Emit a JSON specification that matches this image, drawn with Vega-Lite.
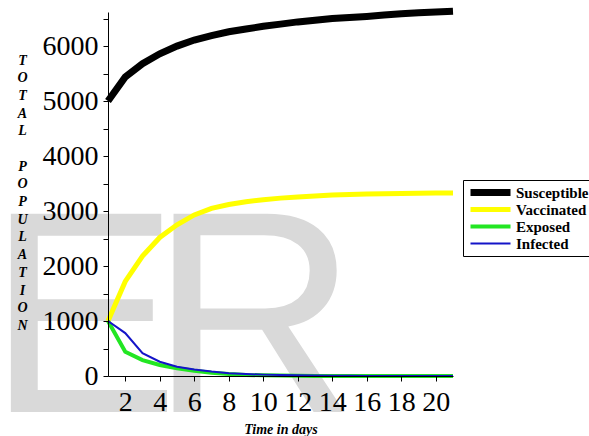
{
  "$schema": "https://vega.github.io/schema/vega-lite/v6.json",
  "width": 345,
  "height": 364,
  "autosize": "none",
  "padding": {"left": 108, "top": 12, "right": 136, "bottom": 60},
  "background": "white",
  "config": {
    "view": {"stroke": null},
    "font": "Liberation Serif",
    "axisX": {
      "values": [1,2,3,4,5,6,7,8,9,10,11,12,13,14,15,16,17,18,19,20,21],
      "labelExpr": "datum.value % 2 === 0 ? datum.value : ''",
      "grid": false, "tickSize": 5, "tickColor": "black", "domainColor": "black",
      "labelFont": "Liberation Serif", "labelFontSize": 28, "labelColor": "black",
      "labelPadding": 7, "labelOverlap": false, "labelFlush": false, "labelBound": false,
      "titleFont": "Liberation Serif", "titleFontSize": 14,
      "titleFontWeight": "bold", "titleFontStyle": "italic", "titleColor": "black",
      "titleY": 53, "titleBaseline": "middle"
    },
    "axisY": {
      "values": [0,500,1000,1500,2000,2500,3000,3500,4000,4500,5000,5500,6000,6500],
      "labelExpr": "datum.value % 1000 === 0 ? datum.value : ''",
      "grid": false, "tickSize": 5, "tickColor": "black", "domainColor": "black",
      "labelFont": "Liberation Serif", "labelFontSize": 28, "labelColor": "black",
      "labelPadding": 5, "labelOverlap": false, "labelFlush": false, "labelBound": false,
      "titleFont": "Liberation Serif", "titleFontSize": 14, "titleFontWeight": "bold",
      "titleFontStyle": "italic", "titleColor": "black", "titleAngle": 0,
      "titleLineHeight": 17.7, "titleX": -86, "titleY": 48,
      "titleAlign": "center", "titleBaseline": "middle"
    }
  },
  "layer": [
    {
      "data": {"values": [{"label": "E"}]},
      "mark": {"type": "text", "font": "Liberation Sans", "fontSize": 288, "color": "#d9d9d9", "align": "left", "baseline": "alphabetic", "clip": false},
      "encoding": {
        "text": {"field": "label"},
        "x": {"datum": -6.0, "type": "quantitative", "scale": {"domain": [1, 21], "nice": false, "zero": false}, "title": "Time in days", "axis": {"zindex": 1}},
        "y": {"datum": -654, "type": "quantitative", "scale": {"domain": [0, 6620], "nice": false},
          "title": ["T","O","T","A","L","\u200b","P","O","P","U","L","A","T","I","O","N"], "axis": {"zindex": 1}}
      }
    },
    {
      "data": {"values": [{"label": "R"}]},
      "mark": {"type": "text", "font": "Liberation Sans", "fontSize": 288, "color": "#d9d9d9", "align": "left", "baseline": "alphabetic", "clip": false},
      "encoding": {
        "text": {"field": "label"},
        "x": {"datum": 3.43, "type": "quantitative", "scale": {"domain": [1, 21], "nice": false, "zero": false}, "title": "Time in days", "axis": {"zindex": 1}},
        "y": {"datum": -654, "type": "quantitative", "scale": {"domain": [0, 6620], "nice": false},
          "title": ["T","O","T","A","L","\u200b","P","O","P","U","L","A","T","I","O","N"], "axis": {"zindex": 1}}
      }
    },
    {
      "data": {"values": [
        {"t": 1, "series": "Susceptible", "value": 5000},
        {"t": 2, "series": "Susceptible", "value": 5440},
        {"t": 3, "series": "Susceptible", "value": 5680},
        {"t": 4, "series": "Susceptible", "value": 5860},
        {"t": 5, "series": "Susceptible", "value": 6000},
        {"t": 6, "series": "Susceptible", "value": 6110},
        {"t": 7, "series": "Susceptible", "value": 6190},
        {"t": 8, "series": "Susceptible", "value": 6260},
        {"t": 9, "series": "Susceptible", "value": 6310},
        {"t": 10, "series": "Susceptible", "value": 6360},
        {"t": 11, "series": "Susceptible", "value": 6400},
        {"t": 12, "series": "Susceptible", "value": 6440},
        {"t": 13, "series": "Susceptible", "value": 6470},
        {"t": 14, "series": "Susceptible", "value": 6500},
        {"t": 15, "series": "Susceptible", "value": 6520},
        {"t": 16, "series": "Susceptible", "value": 6540},
        {"t": 17, "series": "Susceptible", "value": 6565},
        {"t": 18, "series": "Susceptible", "value": 6590},
        {"t": 19, "series": "Susceptible", "value": 6605},
        {"t": 20, "series": "Susceptible", "value": 6620},
        {"t": 21, "series": "Susceptible", "value": 6635},
        {"t": 1, "series": "Vaccinated", "value": 1000},
        {"t": 2, "series": "Vaccinated", "value": 1720},
        {"t": 3, "series": "Vaccinated", "value": 2180},
        {"t": 4, "series": "Vaccinated", "value": 2520},
        {"t": 5, "series": "Vaccinated", "value": 2750},
        {"t": 6, "series": "Vaccinated", "value": 2930},
        {"t": 7, "series": "Vaccinated", "value": 3050},
        {"t": 8, "series": "Vaccinated", "value": 3120},
        {"t": 9, "series": "Vaccinated", "value": 3170},
        {"t": 10, "series": "Vaccinated", "value": 3205},
        {"t": 11, "series": "Vaccinated", "value": 3235},
        {"t": 12, "series": "Vaccinated", "value": 3255},
        {"t": 13, "series": "Vaccinated", "value": 3275},
        {"t": 14, "series": "Vaccinated", "value": 3290},
        {"t": 15, "series": "Vaccinated", "value": 3300},
        {"t": 16, "series": "Vaccinated", "value": 3310},
        {"t": 17, "series": "Vaccinated", "value": 3315},
        {"t": 18, "series": "Vaccinated", "value": 3320},
        {"t": 19, "series": "Vaccinated", "value": 3325},
        {"t": 20, "series": "Vaccinated", "value": 3330},
        {"t": 21, "series": "Vaccinated", "value": 3330},
        {"t": 1, "series": "Exposed", "value": 1000},
        {"t": 2, "series": "Exposed", "value": 442},
        {"t": 3, "series": "Exposed", "value": 290},
        {"t": 4, "series": "Exposed", "value": 200},
        {"t": 5, "series": "Exposed", "value": 140},
        {"t": 6, "series": "Exposed", "value": 95},
        {"t": 7, "series": "Exposed", "value": 60},
        {"t": 8, "series": "Exposed", "value": 35},
        {"t": 9, "series": "Exposed", "value": 20},
        {"t": 10, "series": "Exposed", "value": 12},
        {"t": 11, "series": "Exposed", "value": 7},
        {"t": 12, "series": "Exposed", "value": 4},
        {"t": 13, "series": "Exposed", "value": 2},
        {"t": 14, "series": "Exposed", "value": 1},
        {"t": 15, "series": "Exposed", "value": 1},
        {"t": 16, "series": "Exposed", "value": 0},
        {"t": 17, "series": "Exposed", "value": 0},
        {"t": 18, "series": "Exposed", "value": 0},
        {"t": 19, "series": "Exposed", "value": 0},
        {"t": 20, "series": "Exposed", "value": 0},
        {"t": 21, "series": "Exposed", "value": 0},
        {"t": 1, "series": "Infected", "value": 1000},
        {"t": 2, "series": "Infected", "value": 780},
        {"t": 3, "series": "Infected", "value": 415},
        {"t": 4, "series": "Infected", "value": 260},
        {"t": 5, "series": "Infected", "value": 170},
        {"t": 6, "series": "Infected", "value": 120},
        {"t": 7, "series": "Infected", "value": 80},
        {"t": 8, "series": "Infected", "value": 50},
        {"t": 9, "series": "Infected", "value": 35},
        {"t": 10, "series": "Infected", "value": 25},
        {"t": 11, "series": "Infected", "value": 18},
        {"t": 12, "series": "Infected", "value": 12},
        {"t": 13, "series": "Infected", "value": 8},
        {"t": 14, "series": "Infected", "value": 5},
        {"t": 15, "series": "Infected", "value": 3},
        {"t": 16, "series": "Infected", "value": 2},
        {"t": 17, "series": "Infected", "value": 1},
        {"t": 18, "series": "Infected", "value": 1},
        {"t": 19, "series": "Infected", "value": 0},
        {"t": 20, "series": "Infected", "value": 0},
        {"t": 21, "series": "Infected", "value": 0}
      ]},
      "mark": {"type": "line", "clip": false},
      "encoding": {
        "x": {
          "field": "t", "type": "quantitative",
          "scale": {"domain": [1, 21], "nice": false, "zero": false},
          "title": "Time in days", "axis": {"zindex": 1}
        },
        "y": {
          "field": "value", "type": "quantitative",
          "scale": {"domain": [0, 6620], "nice": false},
          "title": ["T","O","T","A","L","\u200b","P","O","P","U","L","A","T","I","O","N"], "axis": {"zindex": 1}
        },
        "color": {
          "field": "series", "type": "nominal",
          "scale": {"domain": ["Susceptible", "Vaccinated", "Exposed", "Infected"], "range": ["#000000", "#ffff00", "#22e622", "#1414c8"]},
          "legend": {
            "orient": "none", "legendX": 355, "legendY": 168, "title": null,
            "symbolType": "stroke", "symbolSize": 1600, "clipHeight": 17,
            "labelFont": "Liberation Serif", "labelFontWeight": "bold", "labelFontSize": 15,
            "labelColor": "black", "strokeColor": "black", "padding": 4, "rowPadding": 0,
            "labelOffset": 2, "fillColor": "white"
          }
        },
        "strokeWidth": {
          "field": "series", "type": "nominal",
          "scale": {"type": "ordinal", "domain": ["Susceptible", "Vaccinated", "Exposed", "Infected"], "range": [7, 5, 4, 2]}
        }
      }
    }
  ]
}
